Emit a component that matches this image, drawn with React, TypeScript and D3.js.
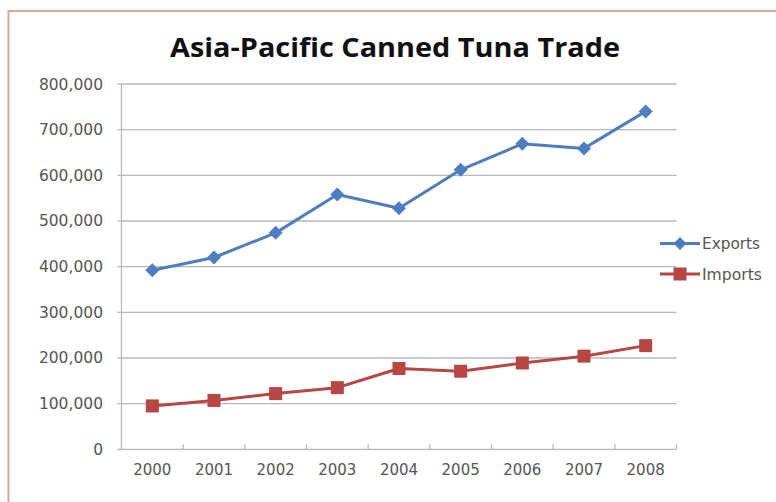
import React from "react";
import * as d3 from "d3";

const years = ["2000", "2001", "2002", "2003", "2004", "2005", "2006", "2007", "2008"];
const exportsVals = [392000, 420000, 474000, 558000, 528000, 612000, 669000, 659000, 740000];
const importsVals = [95000, 107000, 122000, 135000, 177000, 171000, 189000, 204000, 227000];
const yTicks = [0, 100000, 200000, 300000, 400000, 500000, 600000, 700000, 800000];
const seriesNames = ["Exports", "Imports"];

const W = 776;
const H = 502;
const left = 121.5;
const right = 676.5;
const top = 84;
const bottom = 449.3;
const BLUE = "#4F7EC0";
const RED = "#B84644";
const FONT = "'DejaVu Sans', sans-serif";

export default function App() {
  const x = d3.scaleBand<string>().domain(years).range([left, right]);
  const y = d3.scaleLinear().domain([0, 800000]).range([bottom, top]);
  const fmt = d3.format(",");
  const line = d3
    .line<number>()
    .x((_, i) => (x(years[i]) as number) + x.bandwidth() / 2)
    .y((d) => y(d));

  const diamond = (cx: number, cy: number, r: number) =>
    `M${cx},${cy - r}L${cx + r},${cy}L${cx},${cy + r}L${cx - r},${cy}Z`;

  return (
    <svg
      width={W}
      height={H}
      style={{ position: "absolute", left: 0, top: 0, background: "#fff" }}
    >
      <rect x={0} y={0} width={W} height={H} fill="#fff" />
      <rect x={8.5} y={11} width={W + 20} height={H + 20} fill="none" stroke="#E3A39C" strokeWidth={2} />
      <text
        x={395}
        y={57}
        textAnchor="middle"
        fontFamily="'Open Sans', sans-serif"
        fontWeight="bold"
        fontSize={27}
        fill="#111"
        textLength={450}
        lengthAdjust="spacingAndGlyphs"
      >
        Asia-Pacific Canned Tuna Trade
      </text>
      {yTicks.map((t) => (
        <g key={t}>
          {t > 0 && (
            <line x1={left} x2={right} y1={y(t)} y2={y(t)} stroke="#B8B8B8" strokeWidth={1.3} />
          )}
          <line x1={left - 4} x2={left} y1={y(t)} y2={y(t)} stroke="#B8B8B8" strokeWidth={1.3} />
          <text
            x={103}
            y={y(t) + 5.5}
            textAnchor="end"
            fontFamily={FONT}
            fontSize={15.5}
            fill="#555"
          >
            {fmt(t)}
          </text>
        </g>
      ))}
      <line x1={left} x2={left} y1={top} y2={bottom} stroke="#B8B8B8" strokeWidth={1.3} />
      <line x1={left} x2={right} y1={bottom} y2={bottom} stroke="#B8B8B8" strokeWidth={1.3} />
      {years.map((yr, i) => (
        <g key={yr}>
          <line
            x1={(x(yr) as number) + x.bandwidth()}
            x2={(x(yr) as number) + x.bandwidth()}
            y1={bottom}
            y2={bottom - 5}
            stroke="#B8B8B8"
            strokeWidth={1.3}
          />
          <text
            x={(x(yr) as number) + x.bandwidth() / 2}
            y={bottom + 26}
            textAnchor="middle"
            fontFamily={FONT}
            fontSize={15}
            fill="#555"
          >
            {yr}
          </text>
        </g>
      ))}
      <path d={line(exportsVals) || ""} fill="none" stroke={BLUE} strokeWidth={3} strokeLinejoin="round" />
      <path d={line(importsVals) || ""} fill="none" stroke={RED} strokeWidth={3} strokeLinejoin="round" />
      {exportsVals.map((v, i) => (
        <path key={"e" + i} d={diamond((x(years[i]) as number) + x.bandwidth() / 2, y(v), 7)} fill={BLUE} />
      ))}
      {importsVals.map((v, i) => (
        <rect
          key={"i" + i}
          x={(x(years[i]) as number) + x.bandwidth() / 2 - 6.5}
          y={y(v) - 6.5}
          width={13}
          height={13}
          fill={RED}
        />
      ))}
      {/* legend */}
      <line x1={660} x2={700} y1={243.5} y2={243.5} stroke={BLUE} strokeWidth={3} />
      <path d={diamond(680, 243.5, 6.5)} fill={BLUE} />
      <text x={702} y={249} fontFamily={FONT} fontSize={15} fill="#555" textLength={58} lengthAdjust="spacingAndGlyphs">
        {seriesNames[0]}
      </text>
      <line x1={660} x2={700} y1={274} y2={274} stroke={RED} strokeWidth={3} />
      <rect x={673.5} y={267.5} width={13} height={13} fill={RED} />
      <text x={702} y={279.5} fontFamily={FONT} fontSize={15} fill="#555" textLength={60} lengthAdjust="spacingAndGlyphs">
        {seriesNames[1]}
      </text>
    </svg>
  );
}
